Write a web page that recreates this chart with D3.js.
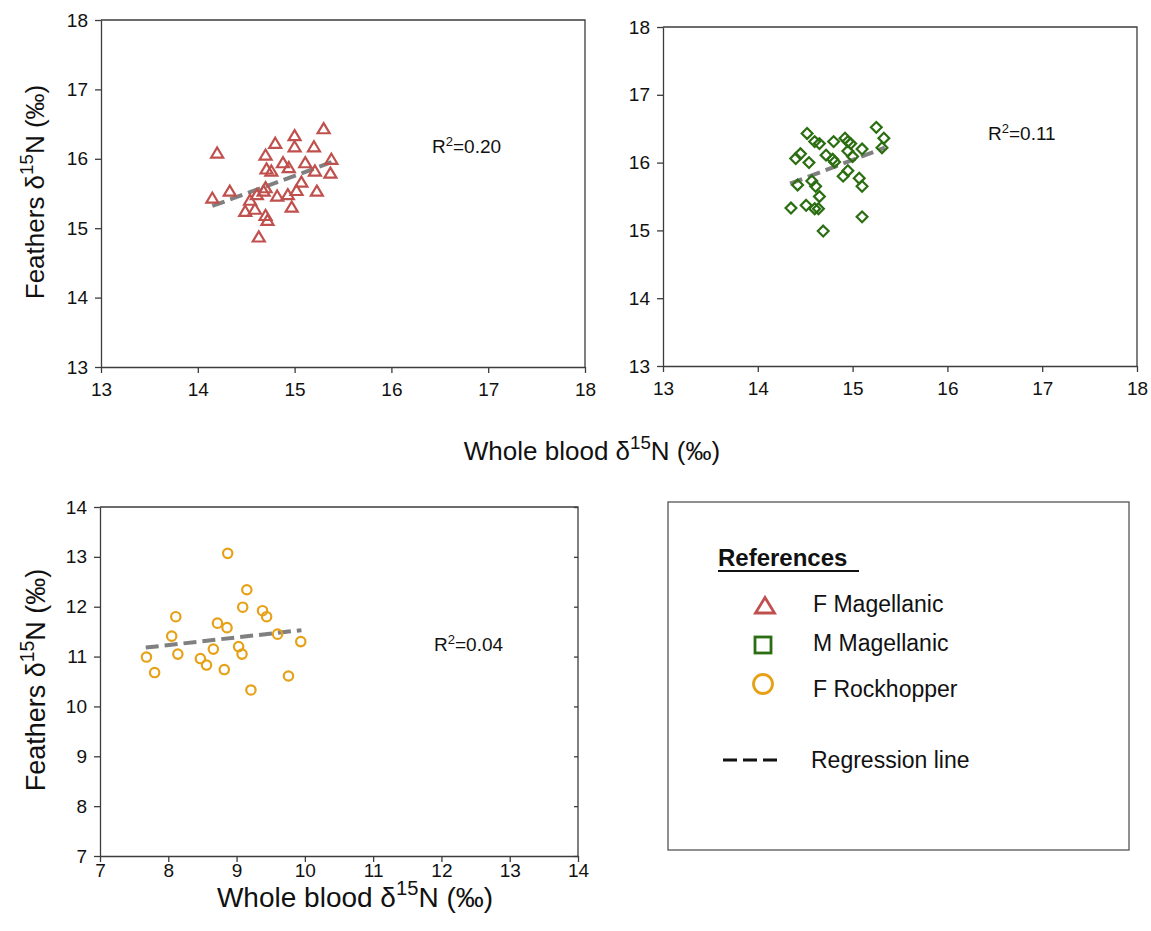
<!DOCTYPE html>
<html>
<head>
<meta charset="utf-8">
<script src="https://cdn.jsdelivr.net/npm/d3@7"></script>
<style>
  body { margin: 0; background: #fff; }
  svg { font-family: Arial, "Liberation Sans", sans-serif; }
  .tick text { fill: #111; }
</style>
</head>
<body>
<svg width="1151" height="931"></svg>
<script>

// F Magellanic (top left)
const fMagellanic = [
    { x: 14.20, y: 16.08 }, { x: 14.15, y: 15.43 }, { x: 14.33, y: 15.53 }, { x: 14.80, y: 16.22 },
    { x: 15.00, y: 16.33 }, { x: 15.30, y: 16.43 }, { x: 15.00, y: 16.17 }, { x: 15.20, y: 16.17 },
    { x: 14.70, y: 16.05 }, { x: 14.88, y: 15.94 }, { x: 14.94, y: 15.87 }, { x: 14.71, y: 15.85 },
    { x: 14.76, y: 15.82 }, { x: 15.11, y: 15.94 }, { x: 15.38, y: 15.99 }, { x: 15.21, y: 15.82 },
    { x: 15.37, y: 15.79 }, { x: 15.07, y: 15.66 }, { x: 14.70, y: 15.58 }, { x: 14.68, y: 15.53 },
    { x: 14.61, y: 15.48 }, { x: 14.54, y: 15.40 }, { x: 14.82, y: 15.46 }, { x: 14.93, y: 15.48 },
    { x: 15.02, y: 15.54 }, { x: 15.23, y: 15.53 }, { x: 14.59, y: 15.27 }, { x: 14.49, y: 15.24 },
    { x: 14.97, y: 15.30 }, { x: 14.70, y: 15.18 }, { x: 14.72, y: 15.11 }, { x: 14.63, y: 14.87 },
];
const fMagellanicFit = [{ x: 14.15, y: 15.32 }, { x: 15.40, y: 15.96 }];

// M Magellanic (top right)
const mMagellanic = [
    { x: 14.52, y: 16.43 }, { x: 14.60, y: 16.31 }, { x: 14.65, y: 16.28 }, { x: 14.80, y: 16.31 },
    { x: 14.92, y: 16.36 }, { x: 14.95, y: 16.31 }, { x: 14.98, y: 16.28 }, { x: 15.25, y: 16.52 },
    { x: 15.33, y: 16.36 }, { x: 15.31, y: 16.22 }, { x: 15.10, y: 16.20 }, { x: 14.95, y: 16.17 },
    { x: 15.00, y: 16.09 }, { x: 14.45, y: 16.13 }, { x: 14.40, y: 16.06 }, { x: 14.54, y: 16.00 },
    { x: 14.72, y: 16.11 }, { x: 14.79, y: 16.05 }, { x: 14.81, y: 16.01 }, { x: 14.95, y: 15.88 },
    { x: 14.90, y: 15.80 }, { x: 15.07, y: 15.77 }, { x: 15.10, y: 15.65 }, { x: 14.42, y: 15.67 },
    { x: 14.57, y: 15.73 }, { x: 14.61, y: 15.65 }, { x: 14.65, y: 15.50 }, { x: 14.35, y: 15.33 },
    { x: 14.51, y: 15.37 }, { x: 14.60, y: 15.32 }, { x: 14.64, y: 15.32 }, { x: 15.10, y: 15.20 },
    { x: 14.69, y: 14.99 },
];
const mMagellanicFit = [{ x: 14.34, y: 15.69 }, { x: 15.34, y: 16.22 }];

// F Rockhopper (bottom left)
const fRockhopper = [
    { x: 8.87, y: 13.07 }, { x: 9.15, y: 12.34 }, { x: 9.09, y: 11.99 }, { x: 9.38, y: 11.92 },
    { x: 9.44, y: 11.80 }, { x: 8.11, y: 11.80 }, { x: 8.72, y: 11.67 }, { x: 8.86, y: 11.58 },
    { x: 8.05, y: 11.41 }, { x: 9.60, y: 11.45 }, { x: 9.94, y: 11.30 }, { x: 9.03, y: 11.20 },
    { x: 8.66, y: 11.15 }, { x: 9.08, y: 11.05 }, { x: 8.14, y: 11.05 }, { x: 7.68, y: 10.99 },
    { x: 8.47, y: 10.96 }, { x: 8.56, y: 10.83 }, { x: 8.82, y: 10.74 }, { x: 7.80, y: 10.68 },
    { x: 9.76, y: 10.61 }, { x: 9.21, y: 10.33 },
];
const fRockhopperFit = [{ x: 7.67, y: 11.18 }, { x: 9.95, y: 11.53 }];

const magTicks = [13, 14, 15, 16, 17, 18];
const rockTicks = [7, 8, 9, 10, 11, 12, 13, 14];
const r2Labels = ["0.20", "0.11", "0.04"];
const legendNames = ["F Magellanic", "M Magellanic", "F Rockhopper"];

const red = "#c0504d", green = "#2b6e12", gold = "#e6a117", fitGray = "#808080", axisCol = "#3c3c3c";

const svg = d3.select("svg");

// marker paths
const triPath = "M0,-5.8L6,4.3L-6,4.3Z";
const diaPath = "M0,-5.4L5.4,0L0,5.4L-5.4,0Z";

const panels = [
    { data: fMagellanic, fit: fMagellanicFit, ticks: magTicks, dom: [13, 18],
      xr: [101, 585], yr: [367, 20], shape: "tri", col: red, r2: r2Labels[0], r2x: 432, r2y: 153, rightTicks: false, pad: 10 },
    { data: mMagellanic, fit: mMagellanicFit, ticks: magTicks, dom: [13, 18],
      xr: [663, 1137], yr: [366, 27], shape: "dia", col: green, r2: r2Labels[1], r2x: 988, r2y: 140, rightTicks: false, pad: 10 },
    { data: fRockhopper, fit: fRockhopperFit, ticks: rockTicks, dom: [7, 14],
      xr: [100, 578], yr: [856, 507], shape: "circ", col: gold, r2: r2Labels[2], r2x: 434, r2y: 651, rightTicks: true, pad: 2 },
];

panels.forEach(p => {
    const x = d3.scaleLinear().domain(p.dom).range(p.xr);
    const y = d3.scaleLinear().domain(p.dom).range(p.yr);
    const g = svg.append("g");

    // frame top / right
    g.append("path")
        .attr("d", `M${p.xr[0]},${p.yr[1]}H${p.xr[1]}V${p.yr[0]}`)
        .attr("fill", "none").attr("stroke", axisCol).attr("stroke-width", 1.3);

    if (p.rightTicks) {
        const ra = g.append("g")
            .attr("transform", `translate(${p.xr[1]},0)`)
            .call(d3.axisLeft(y).tickValues(p.ticks).tickSize(4).tickSizeOuter(0).tickFormat(""));
        ra.select(".domain").remove();
        ra.selectAll("line").attr("stroke", axisCol).attr("stroke-width", 1.3);
    }

    const ax = g.append("g")
        .attr("transform", `translate(0,${p.yr[0]})`)
        .call(d3.axisBottom(x).tickValues(p.ticks).tickFormat(d3.format("d"))
            .tickSize(6).tickSizeOuter(0).tickPadding(p.pad));
    const ay = g.append("g")
        .attr("transform", `translate(${p.xr[0]},0)`)
        .call(d3.axisLeft(y).tickValues(p.ticks).tickFormat(d3.format("d"))
            .tickSize(6).tickSizeOuter(0).tickPadding(7));
    [ax, ay].forEach(a => {
        a.select(".domain").attr("stroke", axisCol).attr("stroke-width", 1.3);
        a.selectAll(".tick line").attr("stroke", axisCol).attr("stroke-width", 1.3);
        a.selectAll(".tick text").attr("font-size", 19).attr("font-family", "Arial, 'Liberation Sans', sans-serif");
    });

    // regression line
    g.append("line")
        .attr("x1", x(p.fit[0].x)).attr("y1", y(p.fit[0].y))
        .attr("x2", x(p.fit[1].x)).attr("y2", y(p.fit[1].y))
        .attr("stroke", fitGray).attr("stroke-width", 4)
        .attr("stroke-dasharray", "13,6");

    // points
    const pts = g.selectAll(".pt").data(p.data).enter();
    if (p.shape === "circ") {
        pts.append("circle")
            .attr("cx", d => x(d.x)).attr("cy", d => y(d.y)).attr("r", 4.7)
            .attr("fill", "none").attr("stroke", p.col).attr("stroke-width", 2.2);
    } else {
        pts.append("path")
            .attr("d", p.shape === "tri" ? triPath : diaPath)
            .attr("transform", d => `translate(${x(d.x)},${y(d.y)})`)
            .attr("fill", "none").attr("stroke", p.col).attr("stroke-width", 2.2)
            .attr("stroke-linejoin", "miter");
    }

    // R squared label
    const t = g.append("text").attr("x", p.r2x).attr("y", p.r2y)
        .attr("font-size", 19).attr("fill", "#111");
    t.append("tspan").text("R");
    t.append("tspan").text("2").attr("font-size", 13).attr("dy", -7);
    t.append("tspan").text("=" + p.r2).attr("dy", 7);
});

// axis titles with superscript 15
function isoLabel(sel, before, size) {
    sel.append("tspan").text(before + "δ");
    sel.append("tspan").text("15").attr("font-size", size * 0.72).attr("dy", -size * 0.42);
    sel.append("tspan").text("N (‰)").attr("dy", size * 0.42);
}

isoLabel(svg.append("text").attr("x", 592).attr("y", 460).attr("text-anchor", "middle")
    .attr("font-size", 26).attr("fill", "#111"), "Whole blood ", 26);
isoLabel(svg.append("text").attr("x", 355).attr("y", 907).attr("text-anchor", "middle")
    .attr("font-size", 28).attr("fill", "#111"), "Whole blood ", 28);
isoLabel(svg.append("text").attr("transform", "translate(44,192) rotate(-90)").attr("text-anchor", "middle")
    .attr("font-size", 26).attr("fill", "#111"), "Feathers ", 26);
isoLabel(svg.append("text").attr("transform", "translate(45,680) rotate(-90)").attr("text-anchor", "middle")
    .attr("font-size", 27).attr("fill", "#111"), "Feathers ", 27);

// legend
const lg = svg.append("g");
lg.append("rect").attr("x", 668).attr("y", 502).attr("width", 461).attr("height", 348)
    .attr("fill", "none").attr("stroke", "#555").attr("stroke-width", 1.3);
lg.append("text").attr("x", 718).attr("y", 566).attr("font-size", 24).attr("font-weight", "bold")
    .attr("fill", "#111").text("References");
lg.append("line").attr("x1", 718).attr("x2", 859).attr("y1", 571).attr("y2", 571)
    .attr("stroke", "#111").attr("stroke-width", 2);

const legendY = [606, 645, 684];
const legendTextY = [612, 651, 697];
lg.append("path").attr("d", "M0,-8.5L9.5,7L-9.5,7Z").attr("transform", `translate(765,${legendY[0]})`)
    .attr("fill", "none").attr("stroke", red).attr("stroke-width", 2.8);
lg.append("rect").attr("x", 755).attr("y", legendY[1] - 8).attr("width", 16).attr("height", 16)
    .attr("fill", "none").attr("stroke", green).attr("stroke-width", 2.8);
lg.append("circle").attr("cx", 763).attr("cy", legendY[2]).attr("r", 9.5)
    .attr("fill", "none").attr("stroke", gold).attr("stroke-width", 2.8);
legendNames.forEach((n, i) => {
    lg.append("text").attr("x", 813).attr("y", legendTextY[i]).attr("font-size", 23)
        .attr("fill", "#111").text(n);
});
lg.append("line").attr("x1", 723).attr("x2", 777).attr("y1", 760).attr("y2", 760)
    .attr("stroke", "#111").attr("stroke-width", 3).attr("stroke-dasharray", "14,6");
lg.append("text").attr("x", 811).attr("y", 768).attr("font-size", 23).attr("fill", "#111")
    .text("Regression line");
</script>
</body>
</html>
